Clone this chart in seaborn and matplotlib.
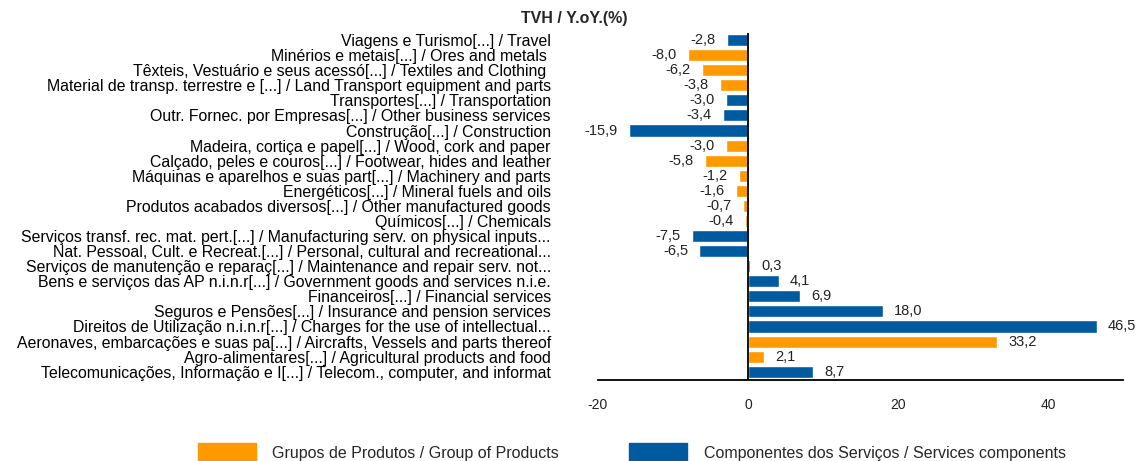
import matplotlib
matplotlib.use("Agg")
import matplotlib.pyplot as plt
import matplotlib.patches as mpatches
import pandas as pd
import seaborn as sns

# categorias (de cima para baixo), valores TVH e grupo
labels = [
    "Viagens e Turismo[...] / Travel",
    "Minérios e metais[...] / Ores and metals ",
    "Têxteis, Vestuário e seus acessó[...] / Textiles and Clothing ",
    "Material de transp. terrestre e [...] / Land Transport equipment and parts",
    "Transportes[...] / Transportation",
    "Outr. Fornec. por Empresas[...] / Other business services",
    "Construção[...] / Construction",
    "Madeira, cortiça e papel[...] / Wood, cork and paper",
    "Calçado, peles e couros[...] / Footwear, hides and leather",
    "Máquinas e aparelhos e suas part[...] / Machinery and parts",
    "Energéticos[...] / Mineral fuels and oils",
    "Produtos acabados diversos[...] / Other manufactured goods",
    "Químicos[...] / Chemicals",
    "Serviços transf. rec. mat. pert.[...] / Manufacturing serv. on physical inputs...",
    "Nat. Pessoal, Cult. e Recreat.[...] / Personal, cultural and recreational...",
    "Serviços de manutenção e reparaç[...] / Maintenance and repair serv. not...",
    "Bens e serviços das AP n.i.n.r[...] / Government goods and services n.i.e.",
    "Financeiros[...] / Financial services",
    "Seguros e Pensões[...] / Insurance and pension services",
    "Direitos de Utilização n.i.n.r[...] / Charges for the use of intellectual...",
    "Aeronaves, embarcações e suas pa[...] / Aircrafts, Vessels and parts thereof",
    "Agro-alimentares[...] / Agricultural products and food",
    "Telecomunicações, Informação e I[...] / Telecom., computer, and informat",
]
values = [-2.8, -8.0, -6.2, -3.8, -3.0, -3.4, -15.9, -3.0, -5.8, -1.2, -1.6, -0.7,
          -0.4, -7.5, -6.5, 0.3, 4.1, 6.9, 18.0, 46.5, 33.2, 2.1, 8.7]
P = "Grupos de Produtos / Group of Products"
S = "Componentes dos Serviços / Services components"
groups = [S, P, P, P, S, S, S, P, P, P, P, P, P, S, S, S, S, S, S, S, P, P, S]

colors = {P: "#FF9900", S: "#005AA0"}

df = pd.DataFrame({"label": labels, "value": values, "group": groups})

sns.set_theme(style="white")
plt.rcParams["font.family"] = ["Liberation Sans", "DejaVu Sans"]
plt.rcParams["axes.unicode_minus"] = False

fig = plt.figure(figsize=(11.42, 4.61), dpi=100)
ax = fig.add_axes([598 / 1142, 1 - 380 / 461, (1123 - 598) / 1142, (380 - 33) / 461])

sns.barplot(data=df, x="value", y="label", hue="group", order=labels,
            palette=colors, dodge=False, orient="h", width=0.8,
            saturation=1, legend=False, ax=ax)

for container in ax.containers:
    ax.bar_label(container, fmt=lambda v: f"{v:.1f}".replace(".", ","),
                 padding=8, fontsize=10.5, color="#222222")

ax.axvline(0, color="black", lw=1.3)
ax.set_xlim(-20, 50)
ax.set_ylim(22.55, -0.47)
ax.set_xticks([-20, 0, 20, 40])
ax.set_xlabel("")
ax.set_ylabel("")

for side in ["top", "right", "left"]:
    ax.spines[side].set_visible(False)
ax.spines["bottom"].set_color("black")
ax.spines["bottom"].set_linewidth(1.3)

ax.tick_params(axis="x", direction="in", length=5, width=1.2, color="black",
               pad=13, labelsize=10, labelcolor="#222222")
ax.tick_params(axis="y", length=0, pad=34, labelsize=11.4, labelcolor="black")

fig.text(574 / 1142, 1 - 18 / 461, "TVH / Y.oY.(%)", ha="center", va="center",
         fontsize=11.5, fontweight="bold")

handles = [mpatches.Patch(color=colors[P], label=P),
           mpatches.Patch(color=colors[S], label=S)]
fig.legend(handles=handles, loc="upper left", bbox_to_anchor=(198 / 1142, 1 - 443 / 461),
           ncol=2, frameon=False, fontsize=11.5, handlelength=3.6, handleheight=1.5,
           handletextpad=1.05, columnspacing=4.4, borderpad=0, borderaxespad=0)

fig.savefig("out.png", dpi=100)
